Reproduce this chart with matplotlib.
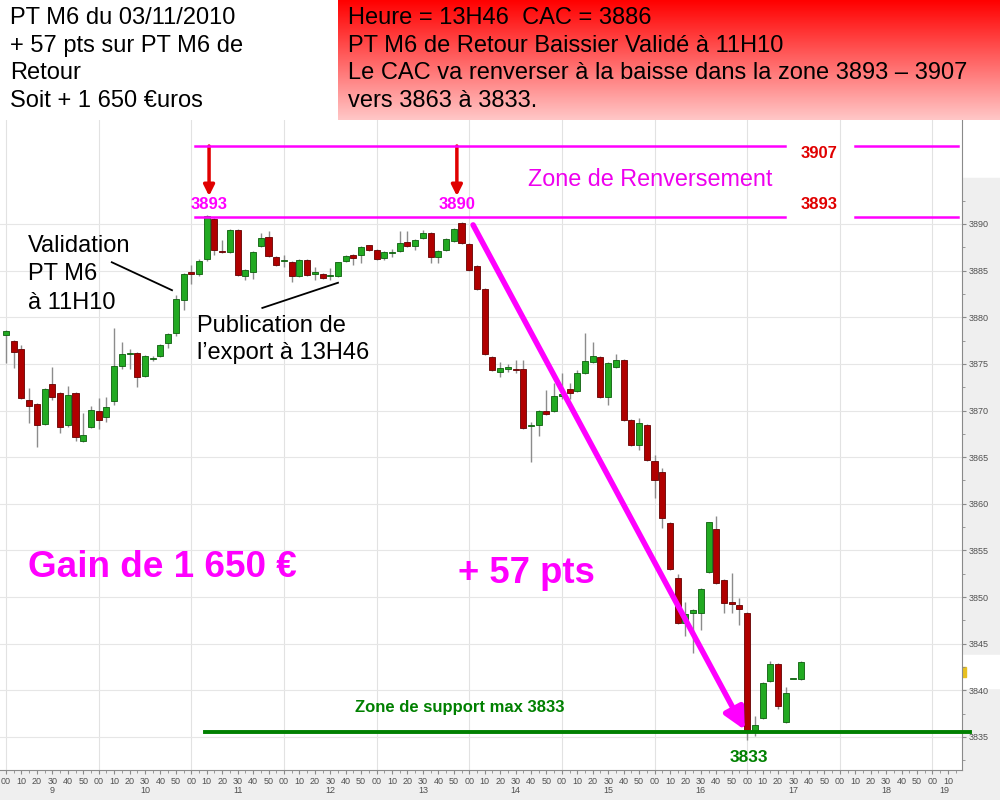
import matplotlib
matplotlib.use("Agg")
import matplotlib.pyplot as plt
import numpy as np
from matplotlib import font_manager
from matplotlib.patches import Rectangle

# CAC 40 - bougies 5 minutes du 03/11/2010, premiere bougie a 9h00
opens = [3878.1, 3877.5, 3876.6, 3871.1, 3870.7, 3868.6, 3872.8, 3871.9, 3868.4, 3871.9,
         3866.7, 3868.2, 3869.9, 3869.3, 3871.0, 3874.8, 3876.1, 3876.2, 3873.7, 3875.5,
         3875.8, 3877.2, 3878.3, 3881.9, 3884.8, 3884.6, 3886.2, 3890.5, 3887.1, 3887.0,
         3889.4, 3884.4, 3884.9, 3887.6, 3888.6, 3886.5, 3886.0, 3885.9, 3884.4, 3886.1,
         3884.6, 3884.6, 3884.4, 3884.4, 3886.0, 3886.7, 3886.7, 3887.7, 3887.2, 3886.4,
         3886.9, 3887.1, 3888.1, 3887.6, 3888.5, 3889.0, 3886.5, 3887.2, 3888.2, 3890.1,
         3887.9, 3885.5, 3883.0, 3875.7, 3874.1, 3874.5, 3874.5, 3874.5, 3868.3, 3868.4,
         3870.0, 3869.9, 3871.6, 3872.3, 3872.1, 3874.0, 3875.2, 3875.7, 3871.4, 3874.7,
         3875.4, 3869.0, 3866.3, 3868.5, 3864.6, 3863.4, 3857.9, 3852.0, 3847.2, 3848.3,
         3848.3, 3852.7, 3857.3, 3851.8, 3849.5, 3849.2, 3848.3, 3835.5, 3837.0, 3841.0,
         3842.8, 3836.6, 3841.2, 3841.2]
highs = [3878.6, 3877.6, 3877.0, 3872.4, 3870.8, 3872.4, 3874.7, 3872.0, 3872.6, 3872.0,
         3869.7, 3870.5, 3871.3, 3871.5, 3878.8, 3877.4, 3876.6, 3876.3, 3876.0, 3875.8,
         3877.1, 3878.3, 3882.4, 3884.7, 3885.6, 3886.2, 3891.0, 3890.6, 3888.3, 3889.5,
         3889.5, 3885.2, 3887.1, 3889.0, 3889.2, 3886.6, 3886.7, 3886.0, 3886.2, 3886.2,
         3885.4, 3884.7, 3885.3, 3885.9, 3886.7, 3886.8, 3887.6, 3887.8, 3887.3, 3887.1,
         3887.3, 3889.2, 3889.3, 3888.4, 3889.4, 3889.1, 3887.2, 3888.5, 3889.6, 3890.2,
         3888.0, 3885.6, 3883.1, 3875.8, 3875.2, 3875.0, 3875.4, 3875.4, 3868.8, 3870.1,
         3872.2, 3872.9, 3874.0, 3872.9, 3874.3, 3878.3, 3877.4, 3875.8, 3875.2, 3876.1,
         3875.5, 3869.1, 3869.2, 3868.6, 3865.2, 3863.8, 3858.0, 3852.5, 3849.5, 3848.7,
         3851.0, 3858.1, 3858.7, 3851.9, 3852.6, 3849.9, 3848.4, 3837.2, 3840.9, 3843.2,
         3842.9, 3840.4, 3841.2, 3843.1]
lows = [3875.1, 3874.6, 3871.2, 3868.7, 3866.1, 3868.5, 3871.1, 3867.6, 3868.2, 3866.7,
        3866.6, 3868.1, 3868.0, 3868.8, 3870.6, 3874.4, 3874.4, 3872.5, 3873.6, 3875.3,
        3875.7, 3876.7, 3878.0, 3880.8, 3883.6, 3884.4, 3886.0, 3886.7, 3886.9, 3886.9,
        3884.4, 3884.0, 3884.1, 3887.5, 3886.5, 3885.5, 3885.4, 3883.8, 3884.3, 3884.4,
        3884.0, 3884.1, 3884.0, 3884.3, 3885.9, 3885.6, 3885.8, 3887.1, 3886.1, 3886.1,
        3886.5, 3887.0, 3887.5, 3887.2, 3888.4, 3885.8, 3885.8, 3887.1, 3888.1, 3887.9,
        3885.0, 3882.9, 3876.0, 3874.2, 3873.6, 3874.1, 3874.0, 3868.0, 3864.5, 3867.3,
        3869.5, 3869.8, 3871.2, 3871.2, 3872.0, 3873.9, 3875.1, 3871.3, 3870.6, 3874.6,
        3868.9, 3866.2, 3865.8, 3864.6, 3860.6, 3857.4, 3852.9, 3847.1, 3845.8, 3844.0,
        3846.5, 3852.6, 3851.4, 3848.3, 3848.3, 3847.0, 3834.7, 3835.1, 3836.9, 3840.9,
        3838.0, 3836.5, 3841.2, 3841.1]
closes = [3878.5, 3876.3, 3871.3, 3870.5, 3868.4, 3872.3, 3871.5, 3868.2, 3871.7, 3867.2,
          3867.4, 3870.1, 3869.0, 3870.4, 3874.8, 3876.1, 3876.2, 3873.6, 3875.9, 3875.6,
          3877.0, 3878.2, 3882.0, 3884.6, 3884.6, 3886.0, 3890.9, 3887.2, 3887.0, 3889.4,
          3884.5, 3885.1, 3887.0, 3888.5, 3886.6, 3885.6, 3886.1, 3884.4, 3886.1, 3884.5,
          3884.9, 3884.2, 3884.5, 3885.9, 3886.6, 3886.4, 3887.5, 3887.2, 3886.2, 3887.0,
          3887.0, 3888.0, 3887.6, 3888.3, 3889.0, 3886.5, 3887.1, 3888.4, 3889.5, 3888.0,
          3885.1, 3883.0, 3876.1, 3874.3, 3874.6, 3874.5, 3874.3, 3868.1, 3868.3, 3869.9,
          3869.6, 3871.6, 3871.8, 3871.9, 3874.0, 3875.3, 3875.9, 3871.4, 3875.1, 3875.4,
          3869.0, 3866.3, 3868.7, 3864.7, 3862.6, 3858.5, 3853.0, 3847.2, 3848.2, 3848.6,
          3850.9, 3858.0, 3851.5, 3849.4, 3849.3, 3848.7, 3835.8, 3836.3, 3840.8, 3842.8,
          3838.3, 3839.7, 3841.2, 3843.0]

hour_labels = ["9", "10", "11", "12", "13", "14", "15", "16", "17", "18"]
price_ticks = [3835, 3840, 3845, 3850, 3855, 3860, 3865, 3870, 3875, 3880, 3885, 3890]

left_lines = ["PT M6 du 03/11/2010", "+ 57 pts sur PT M6 de", "Retour", "Soit + 1 650 €uros"]
red_lines = ["Heure = 13H46  CAC = 3886", "PT M6 de Retour Baissier Validé à 11H10",
             "Le CAC va renverser à la baisse dans la zone 3893 – 3907", "vers 3863 à 3833."]

MAG = "#ff00ff"
GREEN = "#008000"

# police etroite pour les encadres du haut si dispo
names = {f.name for f in font_manager.fontManager.ttflist}
if "Liberation Sans Narrow" in names:
    top_font, top_size = "Liberation Sans Narrow", 20.5
else:
    top_font, top_size = "Liberation Sans", 17
plt.rcParams["font.family"] = ["Liberation Sans", "DejaVu Sans"]

fig = plt.figure(figsize=(10, 8), dpi=100)
fig.add_artist(Rectangle((0, 0), 1, 30 / 800, transform=fig.transFigure,
                         color="#efefef", zorder=-5))
fig.add_artist(Rectangle((962 / 1000, 30 / 800), 38 / 1000, 592 / 800,
                         transform=fig.transFigure, color="#efefef", zorder=-5))
# pastille du dernier cours
fig.add_artist(Rectangle((962 / 1000, 112 / 800), 38 / 1000, 33 / 800,
                         transform=fig.transFigure, color="white", zorder=-4))
fig.add_artist(Rectangle((962 / 1000, 123 / 800), 4 / 1000, 10 / 800,
                         transform=fig.transFigure, color="#e8c020", zorder=-3))

ax = fig.add_axes([0, 30 / 800, 962 / 1000, 650 / 800])
ax.set_xlim(-0.78, 123.83)
ax.set_ylim(3831.46, 3901.15)

# grille
for k in range(11):
    ax.axvline(12 * k, color="#e2e2e2", lw=0.8, zorder=0)
for p in price_ticks:
    ax.axhline(p, color="#e6e6e6", lw=0.8, zorder=0)

# bougies
x = np.arange(len(opens))
o = np.array(opens)
h = np.array(highs)
l = np.array(lows)
c = np.array(closes)
up = c >= o
bottom = np.minimum(o, c)
height = np.maximum(np.abs(c - o), 0.12)
ax.vlines(x, l, h, color="#8c8c8c", lw=1, zorder=2)
ax.bar(x[up], height[up], bottom=bottom[up], width=0.78, color="#22aa22",
       edgecolor="#0d5e0d", linewidth=0.6, zorder=3)
ax.bar(x[~up], height[~up], bottom=bottom[~up], width=0.78, color="#b00000",
       edgecolor="#650000", linewidth=0.6, zorder=3)

# axes
for s in ["top", "left"]:
    ax.spines[s].set_visible(False)
for s in ["bottom", "right"]:
    ax.spines[s].set_color("#8a8a8a")
    ax.spines[s].set_linewidth(0.8)
ax.yaxis.tick_right()
ax.set_yticks(price_ticks)
ax.set_yticks(np.arange(3832.5, 3893, 2.5), minor=True)
ax.set_yticklabels([str(p) for p in price_ticks])
major_x = np.arange(0, 124, 2)
ax.set_xticks(major_x)
ax.set_xticklabels(["%02d" % ((i * 5) % 60) for i in major_x])
ax.set_xticks(np.arange(0, 124, 1), minor=True)
ax.tick_params(axis="both", which="major", labelsize=6.5, labelcolor="#505050",
               color="#8a8a8a", length=3, pad=2)
ax.tick_params(axis="both", which="minor", color="#8a8a8a", length=2)
for k, lab in enumerate(hour_labels):
    ax.text(12 * k + 6, -0.031, lab, transform=ax.get_xaxis_transform(),
            ha="center", va="center", fontsize=6.5, color="#505050")
ax.text(121.6, -0.031, "19", transform=ax.get_xaxis_transform(),
        ha="center", va="center", fontsize=6.5, color="#505050")

# zone de renversement
zone_levels = [3898.36, 3890.75]
for lvl in zone_levels:
    ax.plot([24.5, 100.9], [lvl, lvl], color=MAG, lw=1.8, zorder=4)
    ax.plot([110.0, 123.3], [lvl, lvl], color=MAG, lw=1.8, zorder=4)
ax.text(105.3, 3897.6, "3907", color="#e00000", fontsize=12, fontweight="bold",
        ha="center", va="center")
ax.text(105.3, 3892.14, "3893", color="#e00000", fontsize=12, fontweight="bold",
        ha="center", va="center")
for xi, lab in [(26.3, "3893"), (58.4, "3890")]:
    ax.annotate("", xy=(xi, 3893.0), xytext=(xi, 3898.36),
                arrowprops=dict(arrowstyle="-|>", color="#e00000", lw=2.5,
                                mutation_scale=16, shrinkA=0, shrinkB=0))
    ax.text(xi, 3892.14, lab, color=MAG, fontsize=12, fontweight="bold",
            ha="center", va="center")
ax.text(83.4, 3894.72, "Zone de Renversement", color="#ee00ee", fontsize=16.8,
        ha="center", va="center")

# textes
ax.text(2.85, 3884.6, "Validation\nPT M6\nà 11H10", fontsize=17, ha="left",
        va="center", linespacing=1.38)
ax.plot([13.7, 21.5], [3885.9, 3882.9], color="black", lw=1.3)
ax.text(24.7, 3877.6, "Publication de\nl’export à 13H46", fontsize=17, ha="left",
        va="center", linespacing=1.28)
ax.plot([33.2, 43.0], [3881.0, 3883.7], color="black", lw=1.3)
ax.text(2.85, 3853.2, "Gain de 1 650 €", color=MAG, fontsize=26.6,
        fontweight="bold", ha="left", va="center")
ax.text(58.6, 3852.5, "+ 57 pts", color=MAG, fontsize=26.3, fontweight="bold",
        ha="left", va="center")

# fleche de baisse
ax.annotate("", xy=(95.7, 3835.75), xytext=(60.5, 3889.9),
            arrowprops=dict(arrowstyle="-|>", color=MAG, lw=4, mutation_scale=32,
                            shrinkA=0, shrinkB=0), zorder=5)

# support
ax.plot([25.8, 124.9], [3835.53, 3835.53], color=GREEN, lw=2.8, zorder=4, clip_on=False)
ax.text(45.2, 3838.2, "Zone de support max 3833", color=GREEN, fontsize=12,
        fontweight="bold", ha="left", va="center")
ax.text(96.2, 3832.75, "3833", color=GREEN, fontsize=12.5, fontweight="bold",
        ha="center", va="center")

# encadres du haut
gax = fig.add_axes([338 / 1000, 680 / 800, 662 / 1000, 120 / 800])
grad = np.linspace(0, 1, 100)
img = np.zeros((100, 2, 3))
img[:, :, 0] = 1.0
img[:, :, 1] = (grad * 0.78)[:, None]
img[:, :, 2] = (grad * 0.78)[:, None]
gax.imshow(img, aspect="auto", extent=[0, 1, 1, 0])
gax.set_xlim(0, 1)
gax.set_ylim(1, 0)
gax.axis("off")

for k, line in enumerate(left_lines):
    fig.text(10 / 1000, 1 - (18 + 27.7 * k) / 800, line, fontsize=top_size,
             family=[top_font, "Liberation Sans"], ha="left", va="center")
for k, line in enumerate(red_lines):
    fig.text(348 / 1000, 1 - (18 + 27.7 * k) / 800, line, fontsize=top_size,
             family=[top_font, "Liberation Sans"], ha="left", va="center")

fig.savefig("out.png", dpi=100)
